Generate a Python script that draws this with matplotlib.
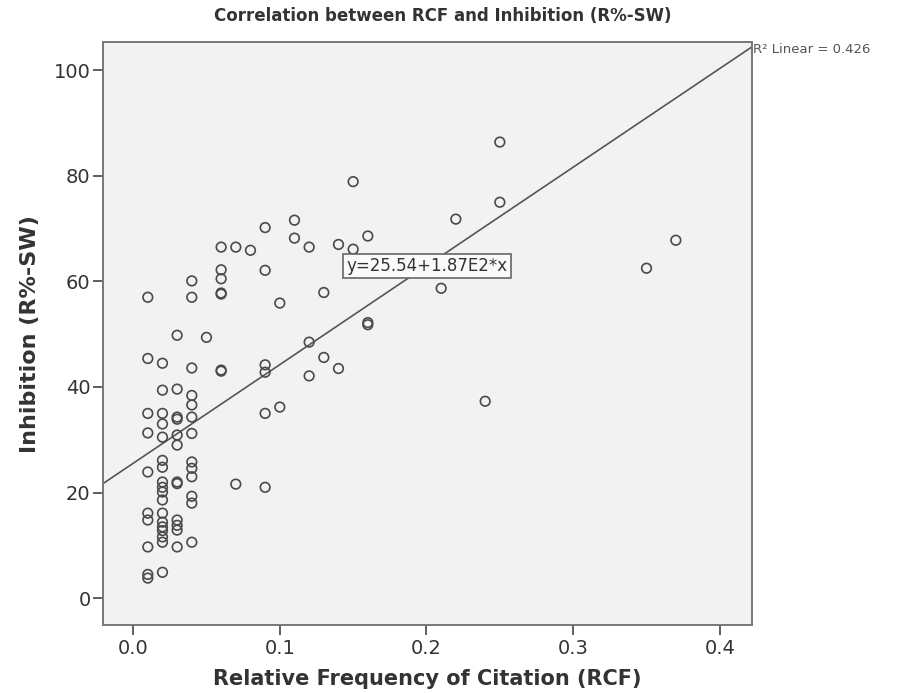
import numpy as np
import matplotlib
matplotlib.use("Agg")
import matplotlib.pyplot as plt

# RCF values and inhibition (R%-SW) per species
rcf = [0.01] * 10 + [0.02] * 18 + [0.03] * 12 + [0.04] * 13 + [0.05] \
    + [0.06] * 7 + [0.07] * 2 + [0.08] + [0.09] * 6 + [0.10] * 2 \
    + [0.11] * 2 + [0.12] * 3 + [0.13] * 2 + [0.14] * 2 + [0.15] * 2 \
    + [0.16] * 3 + [0.21, 0.22, 0.24, 0.25, 0.25, 0.35, 0.37]

inhibition = [
    # 0.01
    57.0, 45.4, 35.0, 31.3, 23.9, 16.1, 14.8, 9.7, 4.5, 3.8,
    # 0.02
    44.5, 39.4, 35.0, 33.0, 30.5, 26.1, 24.8, 22.0, 21.0, 20.1,
    18.6, 16.1, 14.4, 13.5, 12.8, 11.6, 10.6, 4.9,
    # 0.03
    49.8, 39.6, 34.3, 33.9, 30.9, 29.0, 22.0, 21.7, 14.8, 13.8, 12.9, 9.7,
    # 0.04
    60.1, 57.0, 43.6, 38.4, 36.6, 34.3, 31.2, 25.8, 24.6, 23.0, 19.3, 18.0, 10.6,
    # 0.05
    49.4,
    # 0.06
    66.5, 62.2, 60.5, 57.8, 57.6, 43.2, 43.0,
    # 0.07, 0.08
    66.5, 21.6, 65.9,
    # 0.09
    70.2, 62.1, 44.2, 42.8, 35.0, 21.0,
    # 0.10 - 0.16
    55.9, 36.2, 71.6, 68.2, 66.5, 48.5, 42.1, 57.9, 45.6, 67.0, 43.5,
    78.9, 66.1, 68.6, 52.2, 51.8,
    # 0.21 and up
    58.7, 71.8, 37.3, 86.4, 75.0, 62.5, 67.8,
]

intercept = 25.54
slope = 187.0
r_squared = 0.426

x_ticks = [0.0, 0.1, 0.2, 0.3, 0.4]
y_ticks = [0, 20, 40, 60, 80, 100]

fig = plt.figure(figsize=(9.04, 6.93), dpi=100)
ax = fig.add_axes([0.114, 0.098, 0.718, 0.841])
ax.set_facecolor("#f2f2f2")

ax.scatter(rcf, inhibition, s=48, facecolors="none", edgecolors="#4a4a4a",
           linewidths=1.2, zorder=3)

xlim = (-0.0205, 0.422)
ax.set_xlim(*xlim)
ax.set_ylim(-5.1, 105.3)

# fit line across the whole plot area
xs = np.array(xlim)
ax.plot(xs, intercept + slope * xs, color="#555555", lw=1.2, zorder=2)

ax.text(0.2004, 62.9, "y=25.54+1.87E2*x", fontsize=12, color="#333333",
        ha="center", va="center", zorder=4,
        bbox=dict(boxstyle="square,pad=0.2", fc="#fafafa", ec="#666666", lw=1.2))

fig.text(0.833, 0.928, f"R\u00b2 Linear = {r_squared}", fontsize=9.5,
         color="#555555", ha="left", va="center")

ax.set_xticks(x_ticks)
ax.set_xticklabels(["0.0", "0.1", "0.2", "0.3", "0.4"])
ax.set_yticks(y_ticks)
ax.tick_params(axis="both", labelsize=14, colors="#444444", length=7,
               width=1.2, direction="out")
ax.tick_params(axis="x", pad=3)
ax.tick_params(axis="y", pad=2)
for lbl in ax.get_xticklabels() + ax.get_yticklabels():
    lbl.set_color("#333333")

for side, sp in ax.spines.items():
    sp.set_color("#777777")
    sp.set_linewidth(1.4)

ax.set_xlabel("Relative Frequency of Citation (RCF)", fontsize=15,
              fontweight="bold", color="#333333", labelpad=8)
ax.set_ylabel("Inhibition (R%-SW)", fontsize=16, fontweight="bold",
              color="#333333", labelpad=10)

fig.suptitle("Correlation between RCF and Inhibition (R%-SW)", x=0.49, y=0.99,
             fontsize=12, fontweight="bold", color="#333333")

fig.savefig("out.png", dpi=100, facecolor="white")
